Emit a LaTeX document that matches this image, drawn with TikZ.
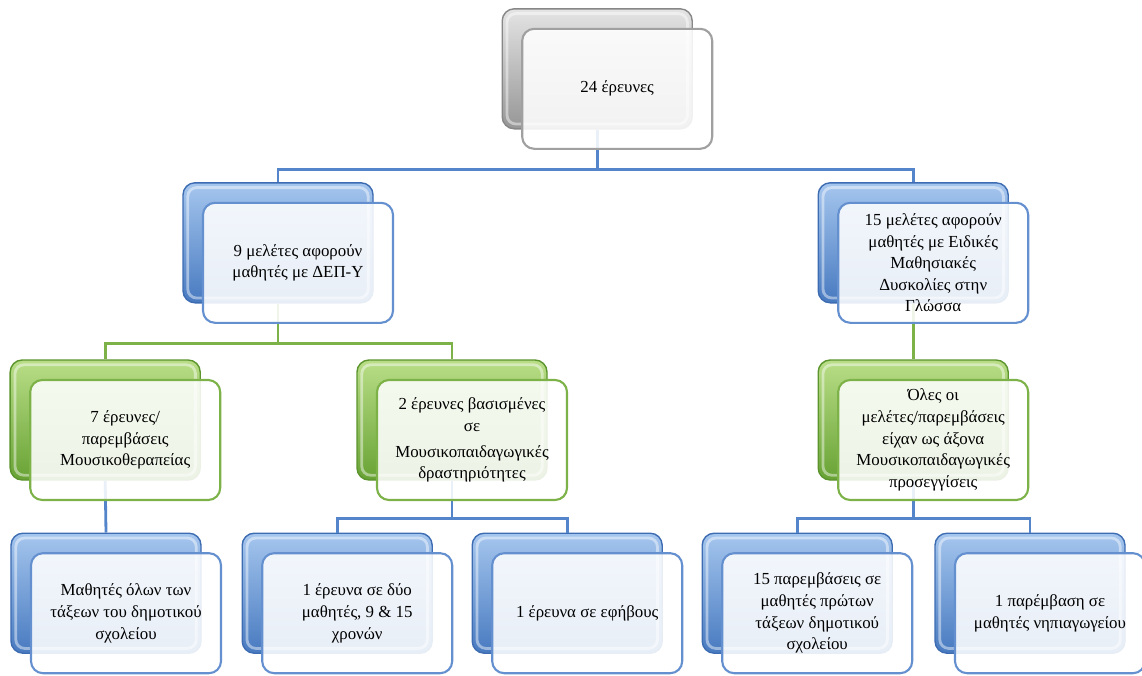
\documentclass[tikz,border=0pt]{standalone}
\usepackage{fontspec}
\setmainfont{Liberation Serif}
\usepackage{tikz}
\usetikzlibrary{positioning,calc}
\definecolor{bluetop}{RGB}{165,198,238}
\definecolor{bluebot}{RGB}{72,122,192}
\definecolor{blueedge}{RGB}{62,108,178}
\definecolor{blueline}{RGB}{84,132,202}
\definecolor{greentop}{RGB}{185,222,135}
\definecolor{greenbot}{RGB}{104,162,52}
\definecolor{greenedge}{RGB}{92,148,46}
\definecolor{greenline}{RGB}{124,178,72}
\definecolor{graytop}{RGB}{228,228,228}
\definecolor{graybot}{RGB}{150,150,150}
\definecolor{grayedge}{RGB}{135,135,135}
\tikzset{
every picture/.style={
line width=1pt
}}
\tikzset{
  back/.style={
    rectangle, rounded corners=0.3cm,
    minimum width=4.75cm, minimum height=3cm,
    line width=1pt,
    path picture={
      \draw [white, opacity=0.45, line width=2pt, rounded corners=0.22cm]
        ($(path picture bounding box.north west)+(0.12,-0.12)$) rectangle
        ($(path picture bounding box.south east)+(-0.12,0.12)$);
    }
  },
  blueback/.style={back, top color=bluetop, bottom color=bluebot, draw=blueedge},
  greenback/.style={back, top color=greentop, bottom color=greenbot, draw=greenedge},
  grayback/.style={back, top color=graytop, bottom color=graybot, draw=grayedge},
  front/.style={
    rectangle, rounded corners=0.3cm,
    minimum width=4.75cm, minimum height=3cm,
    fill=white, fill opacity=0.88, text opacity=1,
    line width=1.5pt, align=center,
    font=\fontsize{12}{15.4}\selectfont,
    xshift=0.5cm, yshift=-0.5cm
  },
  bluefront/.style={front, draw=blueline!90},
  greenfront/.style={front, draw=greenline},
  grayfront/.style={front, draw=graytop!70!black},
  bline/.style={draw=blueline, line width=2pt},
  gline/.style={draw=greenline, line width=2pt}
}
\begin{document}
\begin{tikzpicture}
  \useasboundingbox (0,0) rectangle (28.55,-16.875);

  % back boxes
  \node [grayback] (top) at (14.93,-1.72) {};
  \node [blueback] (nine) at (6.95,-6.07) {};
  \node [blueback] (fifteen) at (22.83,-6.07) {};
  \node [greenback] (music) at (2.63,-10.5) {};
  \node [greenback] (based) at (11.3,-10.5) {};
  \node [greenback] (all) at (22.83,-10.5) {};
  \node [blueback] (pupils) at (2.65,-14.83) {};
  \node [blueback] (two) at (8.43,-14.83) {};
  \node [blueback] (teens) at (14.18,-14.83) {};
  \node [blueback] (first) at (19.93,-14.83) {};
  \node [blueback] (nursery) at (25.75,-14.83) {};

  % connectors
  \draw [bline] (top.south) -- ++(0,-1) -| (nine.north);
  \draw [bline] (top.south) -- ++(0,-1) -| (fifteen.north);
  \draw [gline] (nine.south) -- ++(0,-1) -| (music.north);
  \draw [gline] (nine.south) -- ++(0,-1) -| (based.north);
  \draw [gline] (fifteen.south) -- (all.north);
  \draw [bline] (music.south) -- (pupils.north);
  \draw [bline] (based.south) -- ++(0,-0.95) -| (two.north);
  \draw [bline] (based.south) -- ++(0,-0.95) -| (teens.north);
  \draw [bline] (all.south) -- ++(0,-0.95) -| (first.north);
  \draw [bline] (all.south) -- ++(0,-0.95) -| (nursery.north);

  % front boxes
  \node [grayfront] (top-f) at (top) {24 έρευνες};
  \node [bluefront] (nine-f) at (nine) {9 μελέτες αφορούν\\μαθητές με ΔΕΠ-Υ};
  \node [bluefront] (fifteen-f) at (fifteen) {15 μελέτες αφορούν\\μαθητές με Ειδικές\\Μαθησιακές\\Δυσκολίες στην\\Γλώσσα};
  \node [greenfront] (music-f) at (music) {7 έρευνες/\\παρεμβάσεις\\Μουσικοθεραπείας};
  \node [greenfront] (based-f) at (based) {2 έρευνες βασισμένες\\σε\\[3pt]Μουσικοπαιδαγωγικές\\δραστηριότητες};
  \node [greenfront] (all-f) at (all) {Όλες οι\\μελέτες/παρεμβάσεις\\είχαν ως άξονα\\Μουσικοπαιδαγωγικές\\προσεγγίσεις};
  \node [bluefront] (pupils-f) at (pupils) {Μαθητές όλων των\\τάξεων του δημοτικού\\σχολείου};
  \node [bluefront] (two-f) at (two) {1 έρευνα σε δύο\\μαθητές, 9 \& 15\\χρονών};
  \node [bluefront] (teens-f) at (teens) {1 έρευνα σε εφήβους};
  \node [bluefront] (first-f) at (first) {15 παρεμβάσεις σε\\μαθητές πρώτων\\τάξεων δημοτικού\\σχολείου};
  \node [bluefront] (nursery-f) at (nursery) {1 παρέμβαση σε\\μαθητές νηπιαγωγείου};
\end{tikzpicture}
\end{document}
